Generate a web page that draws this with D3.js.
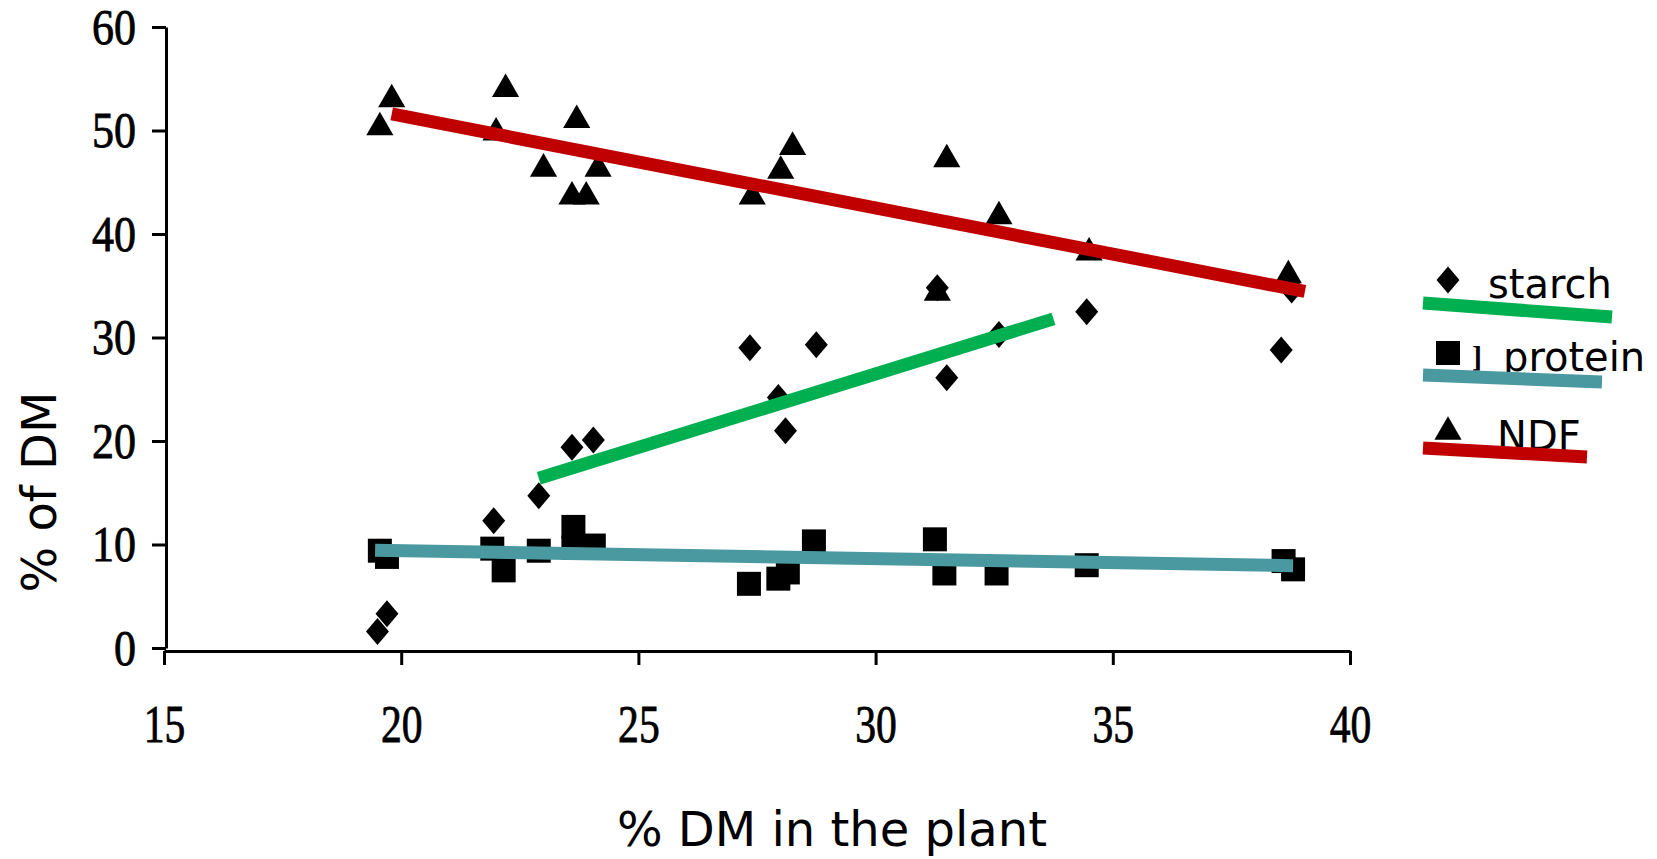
<!DOCTYPE html>
<html>
<head>
<meta charset="utf-8">
<script src="https://cdn.jsdelivr.net/npm/d3@7"></script>
<style>
  body { margin: 0; background: #fff; }
</style>
</head>
<body>
<div id="chart"></div>
<script>
const width = 1657,
  height = 859;

// data (x = % DM in the plant, y = % of DM)
const starchX = [19.5, 19.7, 21.95, 22.9, 23.6, 24.05, 27.35, 27.95, 28.1, 28.75, 31.3, 31.5, 32.6, 34.45, 38.55, 38.77];
const starchY = [1.6, 3.3, 12.3, 14.7, 19.4, 20.1, 29.0, 24.2, 21.0, 29.3, 34.8, 26.1, 30.3, 32.5, 28.8, 34.6];

const proteinX = [19.55, 19.7, 21.92, 22.16, 22.9, 23.63, 23.63, 24.06, 27.33, 27.95, 28.15, 28.7, 31.25, 31.45, 32.55, 34.45, 38.6, 38.8];
const proteinY = [9.4, 8.8, 9.6, 7.5, 9.4, 11.7, 9.7, 9.9, 6.2, 6.7, 7.3, 10.3, 10.5, 7.2, 7.2, 8.0, 8.4, 7.6];

const ndfX = [19.55, 19.8, 22.0, 22.2, 23.0, 23.7, 23.6, 23.9, 24.15, 27.4, 28.0, 28.25, 31.3, 31.5, 32.6, 34.5, 38.7, 38.75];
const ndfY = [50.3, 53.0, 49.8, 54.0, 46.3, 51.0, 43.6, 43.6, 46.3, 43.6, 46.1, 48.4, 34.3, 47.2, 41.7, 38.2, 36.0, 35.2];

// fitted trend lines (start / end)
const starchLineX = [22.9, 33.75], starchLineY = [16.4, 31.8];
const proteinLineX = [19.45, 38.8], proteinLineY = [9.45, 7.95];
const ndfLineX = [19.8, 39.05], ndfLineY = [51.6, 34.45];

const xTicks = [15, 20, 25, 30, 35, 40];
const yTicks = [0, 10, 20, 30, 40, 50, 60];
const legendLabels = ['starch', 'protein', 'NDF'];

const colors = { starch: '#00b050', protein: '#4a99a0', ndf: '#c00000' };

const svg = d3.select('#chart').append('svg')
  .attr('width', width)
  .attr('height', height);

const x = d3.scaleLinear().domain([15, 40]).range([164, 1350]);
const y = d3.scaleLinear().domain([0, 60]).range([648, 27]);

// tall diamond like the scanned marker
const diamond = {
  draw(ctx, size) {
    const h = Math.sqrt(size) / 2, w = h * 0.85;
    ctx.moveTo(0, -h);
    ctx.lineTo(w, 0);
    ctx.lineTo(0, h);
    ctx.lineTo(-w, 0);
    ctx.closePath();
  }
};

// axes
const yAxis = svg.append('g')
  .attr('transform', `translate(${x(15) + 2},0)`)
  .call(d3.axisLeft(y).tickValues(yTicks).tickSize(14).tickSizeOuter(0).tickPadding(20));

const xAxis = svg.append('g')
  .attr('transform', `translate(0,${y(0) + 3})`)
  .call(d3.axisBottom(x).tickValues(xTicks).tickSize(14).tickSizeOuter(0).tickPadding(10));

[yAxis, xAxis].forEach(a => {
  a.select('.domain').attr('stroke', '#000').attr('stroke-width', 3);
  a.selectAll('.tick line').attr('stroke', '#000').attr('stroke-width', 3);
  a.selectAll('.tick text')
    .attr('fill', '#000')
    .attr('stroke', '#000')
    .attr('stroke-width', 0.8)
    .style('font-family', '"Liberation Serif", "Times New Roman", serif');
});
yAxis.selectAll('.tick text').style('font-size', '50px').attr('transform', 'scale(0.88,1)');
xAxis.selectAll('.tick text').style('font-size', '52px')
  .attr('y', 91).attr('dy', 0).attr('transform', 'scale(0.8,1)');

// axis titles
svg.append('text')
  .attr('transform', `translate(56,${492}) rotate(-90)`)
  .attr('text-anchor', 'middle')
  .style('font-family', '"DejaVu Sans", Verdana, sans-serif')
  .style('font-size', '48px')
  .text('% of DM');

svg.append('text')
  .attr('x', 832)
  .attr('y', 846)
  .attr('text-anchor', 'middle')
  .style('font-family', '"DejaVu Sans", Verdana, sans-serif')
  .style('font-size', '48px')
  .text('% DM in the plant');

// points
function drawPoints(xs, ys, type, size) {
  svg.append('g').selectAll('path')
    .data(xs.map((d, i) => [d, ys[i]]))
    .join('path')
    .attr('transform', d => `translate(${x(d[0])},${y(d[1])})`)
    .attr('d', d3.symbol().type(type).size(size))
    .attr('fill', '#000');
}
drawPoints(starchX, starchY, diamond, 729);
drawPoints(proteinX, proteinY, d3.symbolSquare, 576);
drawPoints(ndfX, ndfY, d3.symbolTriangle, 320);

// trend lines
const line = d3.line().x(d => x(d[0])).y(d => y(d[1]));
function drawTrend(xs, ys, color) {
  svg.append('path')
    .datum(xs.map((d, i) => [d, ys[i]]))
    .attr('d', line)
    .attr('fill', 'none')
    .attr('stroke', color)
    .attr('stroke-width', 13);
}
drawTrend(starchLineX, starchLineY, colors.starch);
drawTrend(proteinLineX, proteinLineY, colors.protein);
drawTrend(ndfLineX, ndfLineY, colors.ndf);

// legend
const legendSymbols = [diamond, d3.symbolSquare, d3.symbolTriangle];
const legendSizes = [729, 576, 320];
const legendColors = [colors.starch, colors.protein, colors.ndf];
const legendTextX = [1488, 1503, 1497];
const legendLineLen = [189, 179, 164];
const legendLineDrop = [14, 7, 9];
const legendLineDy = [23, 22, 16];
const legendY = [280, 353, 432];

const legend = svg.append('g');
legendLabels.forEach((label, i) => {
  legend.append('path')
    .attr('transform', `translate(1448,${legendY[i]})`)
    .attr('d', d3.symbol().type(legendSymbols[i]).size(legendSizes[i]))
    .attr('fill', '#000');
  legend.append('text')
    .attr('x', legendTextX[i])
    .attr('y', legendY[i] + 18)
    .style('font-family', '"DejaVu Sans", Verdana, sans-serif')
    .style('font-size', '40px')
    .attr('fill', '#000')
    .text(label);
  legend.append('line')
    .attr('x1', 1423)
    .attr('y1', legendY[i] + legendLineDy[i])
    .attr('x2', 1423 + legendLineLen[i])
    .attr('y2', legendY[i] + legendLineDy[i] + legendLineDrop[i])
    .attr('stroke', legendColors[i])
    .attr('stroke-width', 13);
});
// scan leftover bracket next to the protein symbol
legend.append('text')
  .attr('x', 1472)
  .attr('y', legendY[1] + 14)
  .style('font-family', '"Liberation Serif", serif')
  .style('font-size', '30px')
  .style('font-weight', 'bold')
  .text(']');
</script>
</body>
</html>
